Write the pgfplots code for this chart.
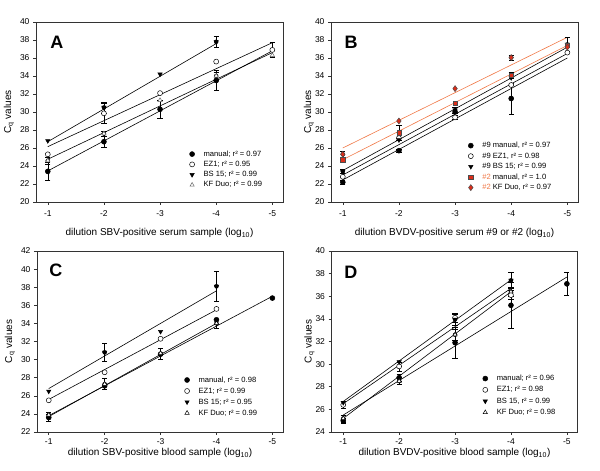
\documentclass[border=0pt]{standalone}
\usepackage{pgfplots}
\pgfplotsset{compat=1.18}
\usepackage{fontspec}
\setmainfont{Liberation Sans}
\definecolor{orline}{RGB}{240,120,70}
\definecolor{redfill}{RGB}{220,45,25}

\tikzset{letter/.style={font=\fontsize{18}{20}\selectfont\bfseries}}
\pgfplotsset{
  panel/.style={
    scale only axis, anchor=south west,
    xmin=0.79, xmax=5.19,
    xtick={1,...,5}, xticklabels={-1,-2,-3,-4,-5},
    tick align=outside, xtick pos=bottom, ytick pos=left,
    major tick length=3pt,
    tick label style={font=\fontsize{8.5}{10}\selectfont},
    label style={font=\fontsize{8.8}{10}\selectfont},
    /pgf/number format/assume math mode=true,
    axis line style={black!80, line width=0.6pt},
    every tick/.style={black!80, line width=0.5pt},
    ylabel={C\textsubscript{q} values},
    every axis y label/.style={at={(axis description cs:0,0.5)}, rotate=90, anchor=center},
    every axis x label/.style={at={(axis description cs:0.5,0)}, anchor=center},
    legend cell align=left,
    legend style={draw=none, fill=none, inner sep=0pt, anchor=north west,
      font=\fontsize{7.6}{9}\selectfont,
      nodes={inner sep=1.5pt, text height=5.5pt, text depth=1.5pt}},
  },
  fitline/.style={forget plot, black, line width=0.6pt, mark=none},
  orfit/.style={forget plot, orline, line width=0.6pt, mark=none},
  errb/.style={forget plot, black, only marks, mark=none,
    error bars/y dir=both, error bars/y explicit,
    error bars/error bar style={line width=0.5pt, black},
    error bars/error mark options={rotate=90, mark size=2.6pt, line width=0.5pt, black}},
  pts/.style={only marks, black, mark size=2.5pt, line width=0.5pt,
    legend image code/.code={\path[draw=none, fill=none] (0pt,-3pt) rectangle (14pt,3pt);
      \draw[##1] plot coordinates {(4pt,0pt)};}},
  smanual/.style={pts, mark=*},
  sezone/.style={pts, mark=*, mark options={fill=white}},
  sbs/.style={pts, mark=triangle*, mark options={rotate=180}},
  skf/.style={pts, mark=triangle*, mark options={fill=white}},
}

\begin{document}
\begin{tikzpicture}[x=1pt,y=1pt]
\useasboundingbox (0,0) rectangle (600,471);

% ---------- A ----------
\begin{axis}[panel, at={(36pt,269pt)}, width=247pt, height=180pt,
  ymin=20, ymax=40, ytick={20,22,...,40},
  xticklabel style={yshift=-2pt},
  xlabel={dilution SBV-positive serum sample (log\textsubscript{10})},
  xlabel style={yshift=-31pt}, ylabel style={yshift=27pt},
  legend style={at={(0.615,0.295)}, row sep=0.3pt}]
\addplot[fitline] coordinates {(1,23.45) (5,36.8)};
\addplot[fitline] coordinates {(1,26.15) (5,37.7)};
\addplot[fitline] coordinates {(1,26.7) (4,37.6)};
\addplot[fitline] coordinates {(1,24.75) (5,36.6)};
\addplot[errb] coordinates {(1,23.4) +- (0,1.0) (2,26.7) +- (0,0.6) (3,30.3) +- (0,1.0) (4,33.5) +- (0,1.1)};
\addplot[errb] coordinates {(2,29.85) +- (0,1.1) (5,36.9) +- (0,0.8)};
\addplot[errb] coordinates {(2,30.5) +- (0,0.6) (4,37.8) +- (0,0.6)};
\addplot[errb] coordinates {(1,24.6) +- (0,0.4) (2,27.6) +- (0,0.3) (4,34.0) +- (0,0.4)};
\addplot[smanual] coordinates {(1,23.4) (2,26.7) (3,30.3) (4,33.5)};
\addlegendentry{manual; r² = 0.97}
\addplot[sezone] coordinates {(1,25.3) (2,29.85) (3,32.1) (4,35.6) (5,36.9)};
\addlegendentry{EZ1; r² = 0.95}
\addplot[sbs] coordinates {(1,26.8) (2,30.5) (3,34.2) (4,37.8)};
\addlegendentry{BS 15; r² = 0.99}
\addplot[skf, black!60] coordinates {(1,24.6) (2,27.6) (3,31.3) (4,34.0) (5,36.3)};
\addlegendentry{KF Duo; r² = 0.99}
\node[letter] at (rel axis cs:0.085,0.889) {A};
\end{axis}

% ---------- B ----------
\begin{axis}[panel, at={(331pt,269pt)}, width=247pt, height=180pt,
  ymin=20, ymax=40, ytick={20,22,...,40},
  xticklabel style={yshift=-2pt},
  xlabel={dilution BVDV-positive serum \#9 or \#2 (log\textsubscript{10})},
  xlabel style={yshift=-31pt}, ylabel style={yshift=22pt},
  legend style={at={(0.549,0.342)}, row sep=0.5pt}]
\addplot[orfit] coordinates {(1,26.0) (5,38.3)};
\addplot[orfit] coordinates {(1,24.7) (5,37.4)};
\addplot[fitline] coordinates {(1,23.5) (5,37.2)};
\addplot[fitline] coordinates {(1,23.0) (5,36.5)};
\addplot[fitline] coordinates {(1,22.45) (5,36.0)};
\addplot[errb] coordinates {(1,22.2) +- (0,0.2) (2,25.7) +- (0,0.2) (4,31.5) +- (0,1.7)};
\addplot[errb] coordinates {(3,29.4) +- (0,0.2)};
\addplot[errb] coordinates {(1,23.4) +- (0,0.2) (3,30.2) +- (0,0.3) (5,37.5) +- (0,0.8)};
\addplot[errb] coordinates {(1,24.7) +- (0,0.2) (2,27.7) +- (0,0.8) (4,34.1) +- (0,0.3)};
\addplot[errb] coordinates {(1,25.3) +- (0,0.3) (4,36.05) +- (0,0.3)};
\addplot[smanual] coordinates {(1,22.2) (2,25.7) (3,30.0) (4,31.5)};
\addlegendentry{\#9 manual, r² = 0.97}
\addplot[sezone] coordinates {(1,22.8) (2,27.1) (3,29.4) (4,33.0) (5,36.6)};
\addlegendentry{\#9 EZ1, r² = 0.98}
\addplot[sbs] coordinates {(1,23.4) (2,26.9) (3,30.2) (4,33.8) (5,37.5)};
\addlegendentry{\#9 BS 15; r² = 0.99}
\addplot[pts, mark=square*, mark size=2.1pt, mark options={fill=redfill, draw=black!70}] coordinates {(1,24.7) (2,27.7) (3,31.0) (4,34.1) (5,37.4)};
\addlegendentry{\textcolor{orline}{\#2} manual, r² = 1.0}
\addplot[pts, mark=diamond*, mark size=3pt, mark options={fill=redfill, draw=black!70}] coordinates {(1,25.3) (2,29.0) (3,32.6) (4,36.05) (5,37.2)};
\addlegendentry{\textcolor{orline}{\#2} KF Duo, r² = 0.97}
\node[letter] at (rel axis cs:0.081,0.889) {B};
\end{axis}

% ---------- C ----------
\begin{axis}[panel, at={(37pt,39pt)}, width=246pt, height=181pt,
  ymin=22, ymax=42, ytick={22,24,...,42},
  xlabel={dilution SBV-positive blood sample (log\textsubscript{10})},
  xlabel style={yshift=-21pt}, ylabel style={yshift=27pt},
  legend style={at={(0.593,0.316)}, row sep=1pt}]
\addplot[fitline] coordinates {(1,23.8) (5,37.0)};
\addplot[fitline] coordinates {(1,25.6) (4,35.5)};
\addplot[fitline] coordinates {(1,26.8) (4,37.6)};
\addplot[fitline] coordinates {(1,23.7) (4,34.0)};
\addplot[errb] coordinates {(1,23.6) +- (0,0.4) (3,30.6) +- (0,0.6)};
\addplot[errb] coordinates {(2,30.8) +- (0,1.0) (4,38.1) +- (0,1.7)};
\addplot[errb] coordinates {(1,23.9) +- (0,0.3) (2,27.3) +- (0,0.6) (4,34.0) +- (0,0.5)};
\addplot[smanual] coordinates {(1,23.6) (2,27.1) (3,30.6) (4,34.4) (5,36.8)};
\addlegendentry{manual, r² = 0.98}
\addplot[sezone] coordinates {(1,25.5) (2,28.6) (3,32.3) (4,35.6)};
\addlegendentry{EZ1; r² = 0.99}
\addplot[sbs] coordinates {(1,26.5) (2,30.8) (3,33.1) (4,38.1)};
\addlegendentry{BS 15; r² = 0.95}
\addplot[skf] coordinates {(1,23.9) (2,27.3) (3,30.7) (4,34.0)};
\addlegendentry{KF Duo; r² = 0.99}
\node[letter] at (rel axis cs:0.077,0.895) {C};
\end{axis}

% ---------- D ----------
\begin{axis}[panel, at={(331.5pt,39pt)}, width=246pt, height=181pt,
  ymin=24, ymax=40, ytick={24,26,...,40},
  xlabel={dilution BVDV-positive blood sample (log\textsubscript{10})},
  xlabel style={yshift=-21pt}, ylabel style={yshift=22pt},
  legend style={at={(0.608,0.324)}, row sep=1.3pt}]
\addplot[fitline] coordinates {(1,25.5) (5,37.7)};
\addplot[fitline] coordinates {(1,26.5) (4,36.7)};
\addplot[fitline] coordinates {(1,26.7) (4,37.45)};
\addplot[fitline] coordinates {(1,25.2) (4,36.4)};
\addplot[errb] coordinates {(1,25.0) +- (0,0.2) (2,28.8) +- (0,0.3) (3,31.9) +- (0,1.35) (4,35.2) +- (0,2.0) (5,37.1) +- (0,1.0)};
\addplot[errb] coordinates {(1,26.4) +- (0,0.3) (2,29.8) +- (0,0.4) (3,34.1) +- (0,0.4) (4,36.1) +- (0,0.4)};
\addplot[errb] coordinates {(3,33.95) +- (0,0.5) (4,37.4) +- (0,0.7)};
\addplot[errb] coordinates {(1,25.2) +- (0,0.3) (2,28.5) +- (0,0.3) (3,32.6) +- (0,0.5) (4,36.4) +- (0,0.4)};
\addplot[smanual] coordinates {(1,25.0) (2,28.8) (3,31.9) (4,35.2) (5,37.1)};
\addlegendentry{manual; r² = 0.96}
\addplot[sezone] coordinates {(1,26.4) (2,29.8) (3,34.1) (4,36.1)};
\addlegendentry{EZ1; r² = 0.98}
\addplot[sbs] coordinates {(1,26.6) (2,30.2) (3,33.95) (4,37.4)};
\addlegendentry{BS 15, r² = 0.99}
\addplot[skf] coordinates {(1,25.2) (2,28.5) (3,32.6) (4,36.4)};
\addlegendentry{KF Duo; r² = 0.98}
\node[letter] at (rel axis cs:0.079,0.881) {D};
\end{axis}
\end{tikzpicture}
\end{document}
